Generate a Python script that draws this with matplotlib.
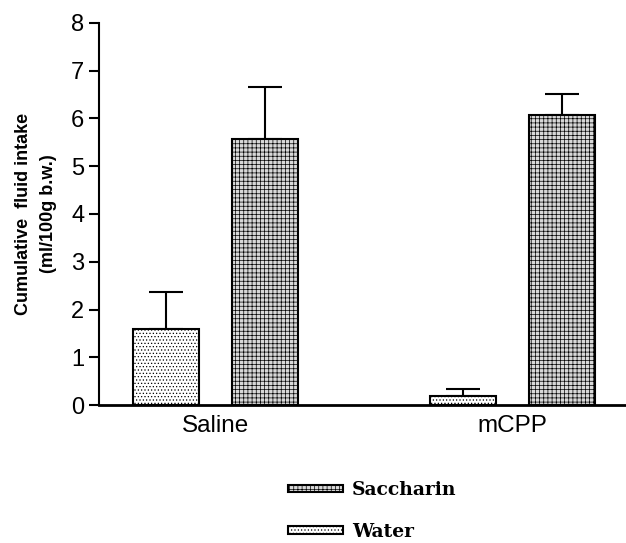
import matplotlib.pyplot as plt
import numpy as np

groups = ['Saline', 'mCPP']
water = [1.6, 0.18]
water_err = [0.77, 0.15]
saccharin = [5.57, 6.07]
saccharin_err = [1.08, 0.45]

plt.rcParams['font.family'] = ['Liberation Sans', 'DejaVu Sans']
plt.rcParams['hatch.linewidth'] = 0.5

fig = plt.figure(figsize=(6.26, 5.43), dpi=100)
ax = fig.add_axes([0.158, 0.254, 0.842, 0.704])

x = np.arange(len(groups))
w = 0.2226
off = 0.167

ax.bar(x - off, water, w, color='white', edgecolor='black', linewidth=1.5,
       hatch='.....', label='Water', zorder=2)
ax.bar(x + off, saccharin, w, color='#d8d8d8', edgecolor='black', linewidth=1.5,
       hatch='++++', label='Saccharin', zorder=2)
ax.errorbar(x - off, water, yerr=[np.zeros(2), water_err], fmt='none',
            ecolor='black', elinewidth=1.5, capsize=12.5, capthick=1.5, zorder=1)
ax.errorbar(x + off, saccharin, yerr=[np.zeros(2), saccharin_err], fmt='none',
            ecolor='black', elinewidth=1.5, capsize=12.5, capthick=1.5, zorder=1)

ax.set_xlim(-0.393, 1.384)
ax.set_ylim(0, 8)
ax.set_yticks(range(0, 9))
ax.set_xticks(x)
ax.set_xticklabels(groups)
ax.tick_params(axis='y', labelsize=17, width=1.5, length=7)
ax.tick_params(axis='x', labelsize=17.5, length=0, pad=7)
for s in ['top', 'right']:
    ax.spines[s].set_visible(False)
ax.spines['left'].set_linewidth(1.5)
ax.spines['bottom'].set_linewidth(2)
ax.set_ylabel('Cumulative  fluid intake\n(ml/100g b.w.)', fontsize=13,
              fontweight='bold', labelpad=10, linespacing=1.65)

handles, labels = ax.get_legend_handles_labels()
fig.legend(handles[::-1], labels[::-1], loc='center', bbox_to_anchor=(0.595, 0.059),
           frameon=False, handlelength=2.9, handleheight=0.27, handletextpad=0.5,
           labelspacing=1.25,
           prop={'family': 'DejaVu Serif', 'weight': 'bold', 'size': 13.5})

fig.savefig('out.png', dpi=100)
